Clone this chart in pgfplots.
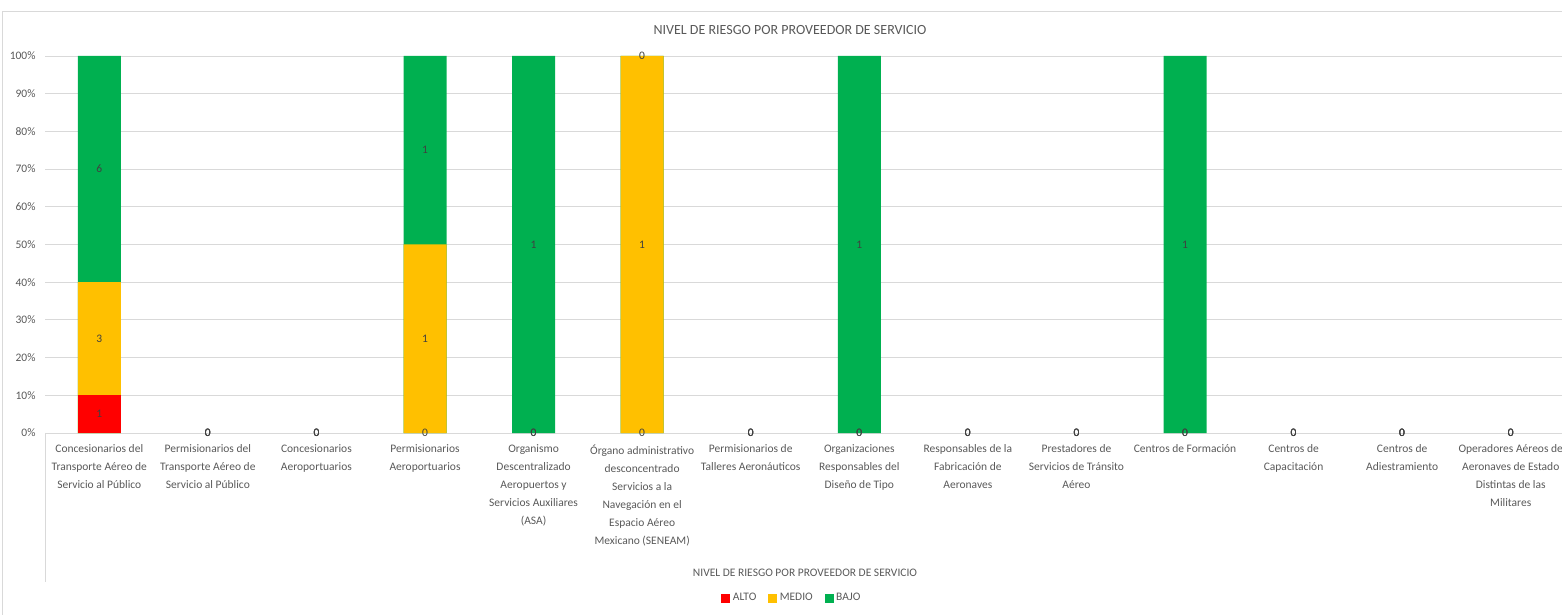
\documentclass[border=0pt]{standalone}
\usepackage{pgfplots}
\usepackage{pgfplotstable}
\pgfplotsset{compat=1.18}
\usepackage{fontspec}
\setmainfont{Carlito}

\definecolor{alto}{HTML}{FF0000}
\definecolor{medio}{HTML}{FFC000}
\definecolor{bajo}{HTML}{00B050}
\definecolor{txt}{HTML}{595959}
\definecolor{lbl}{HTML}{404040}
\definecolor{grd}{HTML}{D9D9D9}

% counts of ALTO / MEDIO / BAJO per service provider (x = category index)
\pgfplotstableread{
x  alto medio bajo
0  1    3     6
1  0    0     0
2  0    0     0
3  0    1     1
4  0    0     1
5  0    1     0
6  0    0     0
7  0    0     1
8  0    0     0
9  0    0     0
10 0    0     1
11 0    0     0
12 0    0     0
13 0    0     0
}\riesgo

\newcommand{\tot}{max(\thisrow{alto}+\thisrow{medio}+\thisrow{bajo},1)}

\begin{document}
\begin{tikzpicture}
% chart frame
\draw[grd, line width=0.8bp] (2bp,-5bp) rectangle (1575bp,604bp);
% title
\node[text=txt, font=\fontsize{14bp}{16bp}\selectfont] at (790bp,585bp)
  {NIVEL DE RIESGO POR PROVEEDOR DE SERVICIO};
\begin{axis}[
  at={(45bp,182bp)}, anchor=south west,
  scale only axis, width=1520bp, height=377bp,
  xmin=-0.5, xmax=13.5, ymin=0, ymax=100,
  clip=false,
  ybar, bar width=43bp, bar shift=0pt,
  axis lines*=left,
  y axis line style={draw=none},
  x axis line style={draw=grd, line width=0.8bp},
  major tick length=0pt,
  ymajorgrids, grid style={draw=grd, line width=0.8bp},
  ytick={0,10,...,100},
  yticklabel={\pgfmathprintnumber{\tick}\%},
  /pgf/number format/assume math mode=true,
  yticklabel style={text=txt, font=\fontsize{11.5bp}{14bp}\selectfont, xshift=-6bp},
  xtick={0,...,13},
  xticklabels={
    {Concesionarios del\\Transporte Aéreo de\\Servicio al Público},
    {Permisionarios del\\Transporte Aéreo de\\Servicio al Público},
    {Concesionarios\\Aeroportuarios},
    {Permisionarios\\Aeroportuarios},
    {Organismo\\Descentralizado\\Aeropuertos y\\Servicios Auxiliares\\(ASA)},
    {Órgano administrativo\\desconcentrado\\Servicios a la\\Navegación en el\\Espacio Aéreo\\Mexicano (SENEAM)},
    {Permisionarios de\\Talleres Aeronáuticos},
    {Organizaciones\\Responsables del\\Diseño de Tipo},
    {Responsables de la\\Fabricación de\\Aeronaves},
    {Prestadores de\\Servicios de Tránsito\\Aéreo},
    {Centros de Formación},
    {Centros de\\Capacitación},
    {Centros de\\Adiestramiento},
    {Operadores Aéreos de\\Aeronaves de Estado\\Distintas de las\\Militares}},
  xticklabel style={text=txt, font=\fontsize{11.5bp}{18bp}\selectfont,
    align=center, anchor=north, yshift=-8bp},
  legend style={at={(rel axis cs:0.4914,-0.4377)}, anchor=center, draw=none,
    fill=none, font=\fontsize{11.5bp}{14bp}\selectfont, text=txt,
    legend columns=3, inner sep=0pt,
    /tikz/every odd column/.append style={column sep=1bp},
    /tikz/every even column/.append style={column sep=10bp}},
  legend cell align=left,
]
% overlaid bars give the 100% stacked look: BAJO (full), MEDIO, ALTO;
% empty segments are skipped
\pgfplotsset{barstyle/.style={draw=none, forget plot,
  y filter/.expression={y==0 ? nan : y}}}
\addplot[barstyle, fill=bajo]
  table[x=x, y expr={100*(\thisrow{alto}+\thisrow{medio}+\thisrow{bajo})/\tot}] {\riesgo};
\addplot[barstyle, fill=medio]
  table[x=x, y expr={100*(\thisrow{alto}+\thisrow{medio})/\tot}] {\riesgo};
\addplot[barstyle, fill=alto]
  table[x=x, y expr={100*\thisrow{alto}/\tot}] {\riesgo};

% value labels centred in each segment
\pgfplotsset{lblstyle/.style={sharp plot, draw=none, mark=none, forget plot,
  nodes near coords, point meta=explicit,
  nodes near coords style={anchor=center, text=lbl, font=\fontsize{11.5bp}{14bp}\selectfont}}}
\addplot[lblstyle] table[x=x, y expr={100*(\thisrow{alto}/2)/\tot}, meta=alto] {\riesgo};
\addplot[lblstyle] table[x=x, y expr={100*(\thisrow{alto}+\thisrow{medio}/2)/\tot}, meta=medio] {\riesgo};
\addplot[lblstyle] table[x=x, y expr={100*(\thisrow{alto}+\thisrow{medio}+\thisrow{bajo}/2)/\tot}, meta=bajo] {\riesgo};

\addlegendimage{legend image code/.code={\fill[alto] (0bp,-4bp) rectangle (8bp,4bp);}}
\addlegendentry{ALTO}
\addlegendimage{legend image code/.code={\fill[medio] (0bp,-4bp) rectangle (8bp,4bp);}}
\addlegendentry{MEDIO}
\addlegendimage{legend image code/.code={\fill[bajo] (0bp,-4bp) rectangle (8bp,4bp);}}
\addlegendentry{BAJO}
\end{axis}
% category axis rule below the plot
\draw[grd, line width=0.8bp] (45bp,182bp) -- (45bp,33bp);
% axis title
\node[text=txt, font=\fontsize{11.5bp}{14bp}\selectfont] at (805bp,42bp)
  {NIVEL DE RIESGO POR PROVEEDOR DE SERVICIO};
\pgfresetboundingbox
\path[use as bounding box] (0,0) rectangle (1562bp,615bp);
\end{tikzpicture}
\end{document}
